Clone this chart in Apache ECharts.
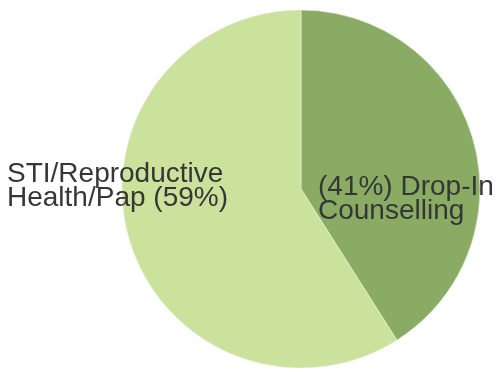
<!DOCTYPE html>
<html>
<head>
<meta charset="utf-8">
<script src="https://cdn.jsdelivr.net/npm/echarts@6/dist/echarts.min.js"></script>
<style>html,body{margin:0;padding:0;background:#fff}#c{width:497px;height:372px}</style>
</head>
<body>
<div id="c"></div>
<script>
var categories = ['Drop-In Counselling', 'STI/Reproductive Health/Pap'];
var values = [41, 59];
var labelTexts = ['(41%) Drop-In\nCounselling', 'STI/Reproductive\nHealth/Pap (59%)'];
var colors = ['#8aab63', '#cbe29c'];

var chart = echarts.init(document.getElementById('c'), null, {renderer: 'canvas'});
chart.setOption({
  animation: false,
  series: [{
    type: 'pie',
    center: [301, 189],
    radius: [0, 179],
    startAngle: 90,
    clockwise: true,
    silent: true,
    itemStyle: {borderColor: '#e8f0dc', borderWidth: 0.6},
    label: {
      show: true,
      position: 'inside',
      color: '#363636',
      fontFamily: 'Liberation Sans, Arial, sans-serif',
      fontSize: 28,
      lineHeight: 24,
      formatter: function (p) { return labelTexts[p.dataIndex]; }
    },
    labelLine: {show: false},
    labelLayout: function (p) {
      if (p.dataIndex === 0) return {x: 318, y: 199, align: 'left', verticalAlign: 'middle'};
      return {x: 7, y: 186, align: 'left', verticalAlign: 'middle'};
    },
    data: categories.map(function (c, i) {
      return {name: c, value: values[i], itemStyle: {color: colors[i]}};
    })
  }]
});
</script>
</body>
</html>
